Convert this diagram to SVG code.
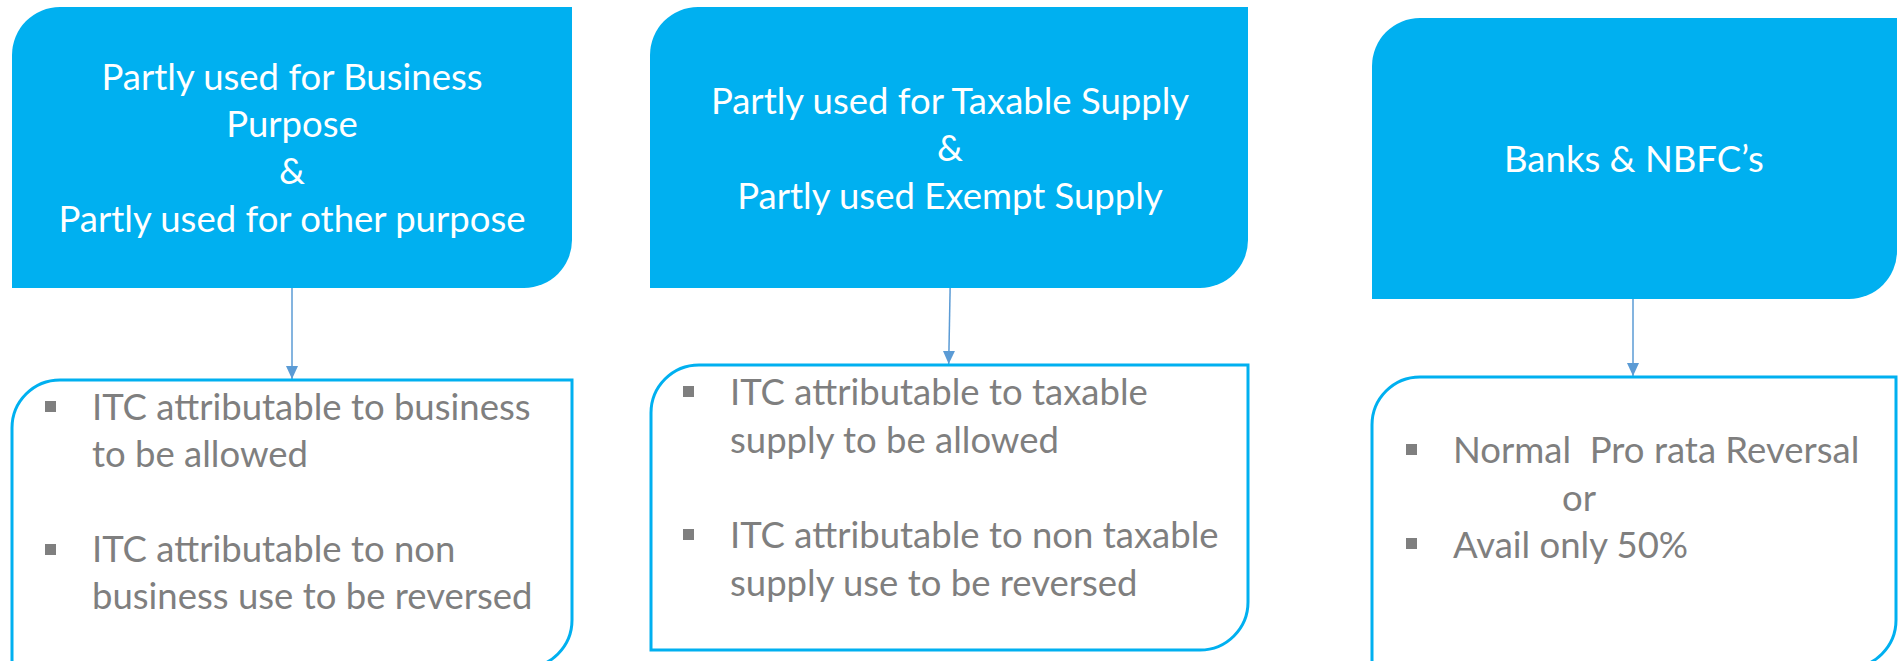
<svg xmlns="http://www.w3.org/2000/svg" width="1898" height="661" viewBox="0 0 1898 661">
  <defs>
    <style>
      .head { fill: #00B0F0; }
      .body { fill: #FFFFFF; stroke: #00B0F0; stroke-width: 3; }
      .htxt { font-family: Lato, "Liberation Sans", sans-serif; font-size: 36.5px; fill: #FFFFFF; text-anchor: middle; }
      .btxt { font-family: Lato, "Liberation Sans", sans-serif; font-size: 36.5px; fill: #7F7F7F; }
      .bullet { fill: #7F7F7F; }
      .link { stroke: #5B9BD5; stroke-width: 1.5; fill: none; marker-end: url(#arrow); }
    </style>
    <marker id="arrow" markerUnits="userSpaceOnUse" viewBox="0 0 13 12" refX="13" refY="6" markerWidth="13" markerHeight="12" orient="auto">
      <path d="M0,0 L13,6 L0,12 Z" fill="#5B9BD5"/>
    </marker>
  </defs>

  <rect width="1898" height="661" fill="#FFFFFF"/>

  <!-- connectors -->
  <g id="connectors">
    <path class="link" d="M292,288 L292,379"/>
    <path class="link" d="M950.3,279 L948.7,364"/>
    <path class="link" d="M1633,299 L1633,376"/>
  </g>

  <!-- column 1 -->
  <g id="head-business">
    <path class="head" d="M12,55 A48,48 0 0 1 60,7 H572 V240 A48,48 0 0 1 524,288 H12 Z"/>
    <text class="htxt" x="292" y="90">Partly used for Business</text>
    <text class="htxt" x="292" y="137">Purpose</text>
    <text class="htxt" x="292" y="184">&amp;</text>
    <text class="htxt" x="292" y="232">Partly used for other purpose</text>
  </g>
  <g id="body-business">
    <path class="body" d="M12,668 V428 A48,48 0 0 1 60,380 H572 V620 A48,48 0 0 1 524,668 Z"/>
    <rect class="bullet" x="45" y="401" width="11" height="11"/>
    <text class="btxt" x="92" y="420">ITC attributable to business</text>
    <text class="btxt" x="92" y="467">to be allowed</text>
    <rect class="bullet" x="45" y="544" width="11" height="11"/>
    <text class="btxt" x="92" y="562">ITC attributable to non</text>
    <text class="btxt" x="92" y="609">business use to be reversed</text>
  </g>

  <!-- column 2 -->
  <g id="head-taxable">
    <path class="head" d="M650,55 A48,48 0 0 1 698,7 H1248 V240 A48,48 0 0 1 1200,288 H650 Z"/>
    <text class="htxt" x="950" y="114">Partly used for Taxable Supply</text>
    <text class="htxt" x="950" y="161">&amp;</text>
    <text class="htxt" x="950" y="209">Partly used Exempt Supply</text>
  </g>
  <g id="body-taxable">
    <path class="body" d="M651,650 V413 A48,48 0 0 1 699,365 H1248 V602 A48,48 0 0 1 1200,650 Z"/>
    <rect class="bullet" x="683" y="386" width="11" height="11"/>
    <text class="btxt" x="730" y="405">ITC attributable to taxable</text>
    <text class="btxt" x="730" y="453">supply to be allowed</text>
    <rect class="bullet" x="683" y="529" width="11" height="11"/>
    <text class="btxt" x="730" y="548">ITC attributable to non taxable</text>
    <text class="btxt" x="730" y="596">supply use to be reversed</text>
  </g>

  <!-- column 3 -->
  <g id="head-banks">
    <path class="head" d="M1372,66 A48,48 0 0 1 1420,18 H1897 V251 A48,48 0 0 1 1849,299 H1372 Z"/>
    <text class="htxt" x="1634" y="172">Banks &amp; NBFC’s</text>
  </g>
  <g id="body-banks">
    <path class="body" d="M1372,668 V425 A48,48 0 0 1 1420,377 H1896 V620 A48,48 0 0 1 1848,668 Z"/>
    <rect class="bullet" x="1406" y="444" width="11" height="11"/>
    <text class="btxt" x="1453" y="463" xml:space="preserve">Normal  Pro rata Reversal</text>
    <text class="btxt" x="1562" y="511">or</text>
    <rect class="bullet" x="1406" y="538" width="11" height="11"/>
    <text class="btxt" x="1453" y="558">Avail only 50%</text>
  </g>
</svg>
